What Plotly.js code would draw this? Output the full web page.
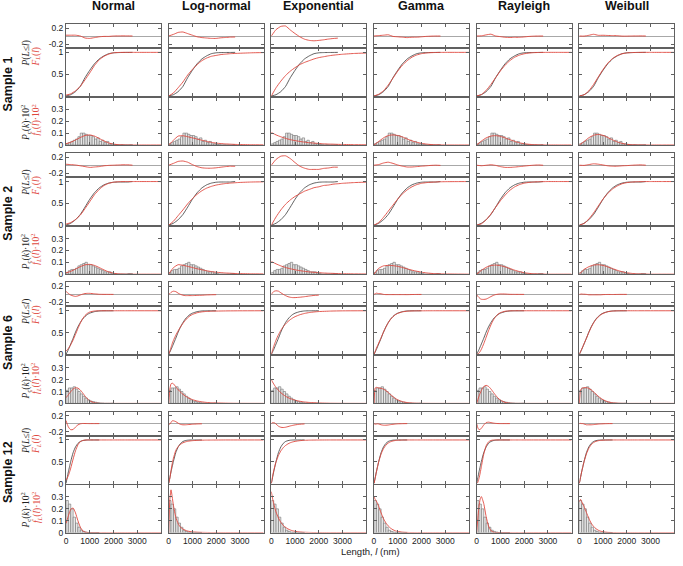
<!DOCTYPE html>
<html>
<head>
<meta charset="utf-8">
<script src="https://cdn.plot.ly/plotly-3.0.1.min.js"></script>
<style>
html,body{margin:0;padding:0;background:#fff;}
#chart{width:683px;height:566px;}
</style>
</head>
<body>
<div id="chart"></div>
<script>
// ---------------- DATA ----------------
const columnTitles = ['Normal', 'Log-normal', 'Exponential', 'Gamma', 'Rayleigh', 'Weibull'];
const sampleNames = ['Sample 1', 'Sample 2', 'Sample 6', 'Sample 12'];
const xTickVals = [0, 1000, 2000, 3000, 4000];
const xTickText = ['0', '1000', '2000', '3000', '4000'];

// evaluation grids (nm)
const gridWide = [0,200,400,600,800,1000,1200,1400,1600,1800,2000,2200,2400,2600,2800,3000,3500,4000];
const gridFine = [0,50,100,150,200,300,400,500,600,700,800,900,1000,1200,1400,1600,1800,2000,2500,3000,4000];
// histogram bin centres (100 nm bins)
const histX = [50,150,250,350,450,550,650,750,850,950,1050,1150,1250,1350,1450,1550,1650,1750,1850,1950,2050,2150,2250,2350,2450,2550,2650,2750,2850,2950];

// Sample 1
const s1Hist = [0.01,0.02,0.03,0.04,0.05,0.07,0.10,0.10,0.09,0.08,0.08,0.07,0.05,0.06,0.03,0.04,0.02,0.03,0.01,0.01,0.005,0.003,0,0.002,0,0,0,0.002];
const s1Emp = [0,0.03,0.10,0.22,0.42,0.59,0.74,0.85,0.92,0.97,0.99,0.995,0.997,0.998,1.0,null,null,null];
const n1C = [0.02,0.05,0.12,0.22,0.37,0.53,0.70,0.83,0.91,0.96,0.99,0.997,1,1,1,1,1,1];
const n1P = [0.011,0.023,0.042,0.063,0.080,0.085,0.075,0.055,0.034,0.017,0.007,0.003,0.001,0,0,0,0,0];
const l1C = [0,0.07,0.19,0.32,0.48,0.61,0.72,0.81,0.87,0.91,0.93,0.95,0.96,0.97,0.975,0.98,0.99,0.995];
const l1P = [0,0.04,0.075,0.078,0.07,0.06,0.05,0.04,0.03,0.022,0.016,0.012,0.009,0.007,0.005,0.004,0.002,0.001];
const e1C = [0,0.19,0.34,0.47,0.57,0.65,0.72,0.77,0.81,0.85,0.88,0.90,0.92,0.935,0.947,0.957,0.975,0.985];
const e1P = [0.105,0.085,0.069,0.056,0.045,0.037,0.030,0.024,0.019,0.016,0.013,0.010,0.008,0.007,0.0055,0.0045,0.0026,0.0015];
const g1C = [0,0.04,0.12,0.25,0.41,0.57,0.71,0.81,0.89,0.94,0.97,0.985,0.993,0.997,0.999,1,1,1];
const g1P = [0,0.03,0.06,0.08,0.085,0.08,0.068,0.05,0.035,0.023,0.014,0.008,0.004,0.002,0.001,0,0,0];
const r1C = [0,0.034,0.128,0.265,0.42,0.574,0.708,0.812,0.888,0.937,0.967,0.984,0.993,0.997,0.999,1,1,1];
const r1P = [0,0.033,0.060,0.075,0.079,0.073,0.060,0.045,0.031,0.019,0.011,0.006,0.003,0.0013,0.0005,0.0002,0,0];
const w1C = [0,0.027,0.117,0.263,0.437,0.608,0.753,0.86,0.928,0.967,0.987,0.995,0.998,1,1,1,1,1];
const w1P = [0,0.029,0.061,0.082,0.089,0.081,0.063,0.043,0.026,0.014,0.006,0.0025,0.0009,0.0003,0,0,0,0];

// Sample 2
const s2Hist = [0.015,0.03,0.04,0.04,0.05,0.07,0.08,0.09,0.10,0.08,0.08,0.07,0.06,0.05,0.04,0.03,0.02,0.02,0.02,0.01,0.005,0,0,0,0,0,0.005,0.005];
const s2Emp = [0,0.045,0.125,0.245,0.415,0.595,0.745,0.855,0.925,0.965,0.985,0.99,0.99,0.99,1.0,null,null,null];
const n2C = [0.024,0.06,0.13,0.23,0.38,0.54,0.70,0.82,0.91,0.96,0.985,0.995,1,1,1,1,1,1];
const n2P = [0.011,0.024,0.043,0.063,0.079,0.083,0.074,0.056,0.036,0.019,0.008,0.003,0.001,0,0,0,0,0];
const l2C = [0,0.09,0.22,0.35,0.49,0.61,0.71,0.79,0.85,0.89,0.92,0.94,0.955,0.965,0.973,0.98,0.99,0.994];
const l2P = [0,0.055,0.08,0.075,0.066,0.056,0.046,0.037,0.029,0.022,0.017,0.013,0.010,0.008,0.006,0.005,0.003,0.002];
const e2C = [0,0.19,0.35,0.48,0.58,0.66,0.72,0.78,0.82,0.86,0.88,0.91,0.92,0.94,0.95,0.96,0.977,0.987];
const e2P = [0.107,0.087,0.07,0.056,0.046,0.037,0.030,0.024,0.019,0.016,0.013,0.010,0.008,0.007,0.005,0.004,0.0025,0.0014];
const g2C = [0,0.06,0.18,0.32,0.46,0.60,0.72,0.81,0.88,0.93,0.96,0.975,0.985,0.99,0.995,0.997,0.999,1];
const g2P = [0,0.05,0.07,0.074,0.072,0.066,0.056,0.045,0.034,0.025,0.017,0.011,0.007,0.004,0.003,0.002,0.001,0];
const r2C = [0,0.032,0.123,0.256,0.41,0.56,0.69,0.80,0.878,0.93,0.963,0.98,0.99,0.996,0.998,1,1,1];
const r2P = [0,0.032,0.058,0.073,0.077,0.072,0.062,0.048,0.034,0.022,0.013,0.007,0.004,0.002,0.001,0,0,0];
const w2C = [0,0.04,0.14,0.28,0.44,0.60,0.73,0.83,0.90,0.95,0.975,0.988,0.995,0.998,1,1,1,1];
const w2P = [0,0.04,0.063,0.077,0.08,0.074,0.062,0.047,0.033,0.021,0.012,0.007,0.003,0.002,0.001,0,0,0];

// Sample 6
const s6Hist = [0.11,0.13,0.13,0.14,0.12,0.10,0.08,0.06,0.045,0.03,0.02,0.015,0.01,0.006,0.003,0.002,0,0,0,0.001];
const s6Emp = [0,0.055,0.11,0.175,0.24,0.37,0.51,0.63,0.73,0.81,0.87,0.915,0.945,0.98,0.996,0.999,0.9995,1.0,null,null,null];
const n6C = [0.076,0.103,0.136,0.175,0.222,0.332,0.46,0.592,0.715,0.816,0.891,0.941,0.971,0.995,0.999,1,1,1,1,1,1];
const n6P = [0.048,0.06,0.073,0.086,0.099,0.121,0.132,0.129,0.113,0.089,0.062,0.039,0.022,0.005,0.0006,0,0,0,0,0,0];
const l6C = [0,0.075,0.16,0.245,0.32,0.44,0.54,0.63,0.71,0.78,0.84,0.885,0.915,0.955,0.975,0.985,0.99,0.993,0.997,0.999,1];
const l6P = [0,0.12,0.165,0.17,0.165,0.14,0.115,0.095,0.077,0.062,0.05,0.04,0.032,0.02,0.013,0.008,0.005,0.004,0.0015,0.0006,0.0001];
const e6C = [0,0.095,0.181,0.259,0.33,0.451,0.551,0.632,0.699,0.753,0.798,0.835,0.865,0.909,0.939,0.959,0.973,0.982,0.993,0.998,1];
const e6P = [0.2,0.181,0.164,0.148,0.134,0.11,0.09,0.074,0.06,0.049,0.04,0.033,0.027,0.018,0.012,0.008,0.0055,0.0037,0.0013,0.0005,0.0001];
const g6C = [0,0.07,0.14,0.2,0.26,0.385,0.51,0.625,0.725,0.805,0.865,0.91,0.94,0.975,0.99,0.996,0.998,0.999,1,1,1];
const g6P = [0,0.13,0.135,0.133,0.13,0.127,0.12,0.108,0.092,0.074,0.057,0.042,0.03,0.015,0.007,0.003,0.0015,0.0007,0.0001,0,0];
const r6C = [0,0.0078,0.031,0.068,0.118,0.245,0.393,0.542,0.675,0.784,0.865,0.92,0.956,0.989,0.998,1,1,1,1,1,1];
const r6P = [0,0.031,0.061,0.087,0.11,0.142,0.152,0.143,0.122,0.095,0.068,0.045,0.028,0.008,0.002,0.0003,0,0,0,0,0];
const w6C = [0,0.06,0.12,0.18,0.245,0.37,0.5,0.62,0.72,0.8,0.86,0.905,0.94,0.978,0.993,0.998,1,1,1,1,1];
const w6P = [0,0.11,0.125,0.13,0.132,0.133,0.127,0.114,0.097,0.078,0.06,0.044,0.031,0.014,0.005,0.002,0.0005,0,0,0,0];

// Sample 12
const s12Hist = [0.27,0.24,0.20,0.13,0.08,0.045,0.02,0.01,0.004,0.001,0,0,0,0.0005];
const s12Emp = [0,0.135,0.27,0.39,0.51,0.71,0.84,0.92,0.965,0.985,0.995,0.999,1.0,1.0,1.0,null,null,null,null,null,null];
const n12C = [0.078,0.123,0.185,0.264,0.356,0.563,0.753,0.887,0.959,0.988,0.997,1,1,1,1,1,1,1,1,1,1];
const n12P = [0.077,0.108,0.141,0.172,0.196,0.207,0.166,0.101,0.047,0.016,0.004,0.001,0,0,0,0,0,0,0,0,0];
const l12C = [0,0.12,0.3,0.46,0.58,0.76,0.85,0.9,0.935,0.955,0.97,0.978,0.984,0.991,0.995,0.997,0.998,0.999,1,1,1];
const l12P = [0,0.28,0.36,0.3,0.23,0.13,0.075,0.045,0.03,0.02,0.013,0.009,0.0065,0.0035,0.002,0.0012,0.0007,0.0004,0.0001,0,0];
const e12C = [0,0.158,0.292,0.404,0.498,0.645,0.748,0.822,0.874,0.91,0.937,0.955,0.968,0.984,0.992,0.996,0.998,0.999,1,1,1];
const e12P = [0.345,0.29,0.244,0.206,0.173,0.123,0.087,0.061,0.044,0.031,0.022,0.015,0.011,0.0055,0.0028,0.0014,0.0007,0.0004,0.0001,0,0];
const g12C = [0,0.12,0.26,0.385,0.5,0.68,0.8,0.88,0.93,0.96,0.978,0.988,0.994,0.998,1,1,1,1,1,1,1];
const g12P = [0.3,0.28,0.265,0.245,0.22,0.165,0.118,0.082,0.056,0.037,0.024,0.015,0.01,0.004,0.0015,0.0005,0.0002,0,0,0,0];
const r12C = [0,0.031,0.118,0.245,0.393,0.675,0.865,0.956,0.989,0.998,1,1,1,1,1,1,1,1,1,1,1];
const r12P = [0,0.121,0.221,0.283,0.303,0.244,0.135,0.055,0.017,0.004,0.0007,0,0,0,0,0,0,0,0,0,0];
const w12C = [0,0.14,0.27,0.39,0.5,0.68,0.81,0.89,0.94,0.968,0.983,0.991,0.995,0.999,1,1,1,1,1,1,1];
const w12P = [0.26,0.28,0.26,0.24,0.22,0.17,0.12,0.08,0.052,0.033,0.02,0.012,0.007,0.002,0.0006,0.0002,0,0,0,0,0];

// --------------- BUILD ----------------
const samples = [
  {grid: gridWide, emp: s1Emp, hist: s1Hist, cdf: [n1C,l1C,e1C,g1C,r1C,w1C], pdf: [n1P,l1P,e1P,g1P,r1P,w1P]},
  {grid: gridWide, emp: s2Emp, hist: s2Hist, cdf: [n2C,l2C,e2C,g2C,r2C,w2C], pdf: [n2P,l2P,e2P,g2P,r2P,w2P]},
  {grid: gridFine, emp: s6Emp, hist: s6Hist, cdf: [n6C,l6C,e6C,g6C,r6C,w6C], pdf: [n6P,l6P,e6P,g6P,r6P,w6P]},
  {grid: gridFine, emp: s12Emp, hist: s12Hist, cdf: [n12C,l12C,e12C,g12C,r12C,w12C], pdf: [n12P,l12P,e12P,g12P,r12P,w12P]}
];

const W = 683, H = 566;
const RED = '#e0473e', DARK = '#3a3a3a', FRAME = '#606060';
const colLeft0 = 66, colStep = 102.66, colW = 95;
const blockTop0 = 24, blockStep = 129.2;
const panelRows = [[0, 24], [24, 72], [73.5, 121]]; // diff, cdf, hist (px offsets within block)
const yRanges = [[-0.3, 0.3], [0, 1.1], [0, 0.4]];
const yTickVals = [[-0.2, 0.2], [0, 0.5, 1], [0, 0.1, 0.2, 0.3]];
const yTickText = [['-0.2', '0.2'], ['0', '0.5', '1'], ['0', '0.1', '0.2', '0.3']];

const px = x => x / W;
const py = y => 1 - y / H;

const traces = [];
const layout = {
  width: W, height: H,
  margin: {l: 0, r: 0, t: 0, b: 0},
  paper_bgcolor: '#fff', plot_bgcolor: '#fff',
  showlegend: false,
  barmode: 'overlay',
  font: {family: 'Liberation Sans, Arial, sans-serif', size: 8.5, color: '#222'},
  annotations: []
};

const lineStyle = (color, w) => ({color: color, width: w, shape: 'spline', smoothing: 0.5});

samples.forEach((S, s) => {
  const T = blockTop0 + blockStep * s;
  for (let p = 0; p < 3; p++) {
    for (let c = 0; c < 6; c++) {
      const k = (s * 3 + p) * 6 + c + 1;
      const xa = 'xaxis' + (k === 1 ? '' : k), ya = 'yaxis' + (k === 1 ? '' : k);
      const xr = 'x' + (k === 1 ? '' : k), yr = 'y' + (k === 1 ? '' : k);
      const left = colLeft0 + colStep * c;
      const top = T + panelRows[p][0], bot = T + panelRows[p][1];
      const bottomRow = (s === 3 && p === 2);
      const nX = (c === 5) ? 5 : 4;
      layout[xa] = {
        domain: [px(left), px(left + colW)], anchor: yr,
        range: [0, 4000], tickmode: 'array', tickvals: xTickVals.slice(0, nX),
        ticktext: xTickText.slice(0, nX),
        showticklabels: bottomRow, ticks: 'inside', ticklen: 3, tickcolor: FRAME, tickwidth: 1,
        showline: true, linecolor: FRAME, linewidth: 1, mirror: 'ticks',
        showgrid: false, zeroline: false, fixedrange: true,
        tickfont: {size: 8.5, color: '#222'}
      };
      layout[ya] = {
        domain: [py(bot), py(top)], anchor: xr,
        range: yRanges[p], tickmode: 'array', tickvals: yTickVals[p], ticktext: yTickText[p],
        showticklabels: c === 0, ticks: 'inside', ticklen: 3, tickcolor: FRAME, tickwidth: 1,
        showline: true, linecolor: FRAME, linewidth: 1, mirror: 'ticks',
        showgrid: false, zeroline: p === 0, zerolinecolor: '#a8a8a8', zerolinewidth: 1,
        fixedrange: true, tickfont: {size: 8.5, color: '#222'}
      };
      if (p === 0) {
        const diff = S.emp.map((e, i) => e === null ? null : S.cdf[c][i] - e);
        traces.push({type: 'scatter', mode: 'lines', x: S.grid, y: diff, xaxis: xr, yaxis: yr,
          line: lineStyle(RED, 0.9), connectgaps: false, hoverinfo: 'skip'});
      } else if (p === 1) {
        traces.push({type: 'scatter', mode: 'lines', x: S.grid, y: S.emp, xaxis: xr, yaxis: yr,
          line: lineStyle(DARK, 0.8), connectgaps: false, hoverinfo: 'skip'});
        traces.push({type: 'scatter', mode: 'lines', x: S.grid, y: S.cdf[c], xaxis: xr, yaxis: yr,
          line: lineStyle(RED, 0.9), hoverinfo: 'skip'});
      } else {
        traces.push({type: 'bar', x: histX.slice(0, S.hist.length), y: S.hist, width: 100,
          xaxis: xr, yaxis: yr, marker: {color: '#e8e8e8', line: {color: '#707070', width: 0.6}},
          hoverinfo: 'skip'});
        traces.push({type: 'scatter', mode: 'lines', x: S.grid, y: S.pdf[c], xaxis: xr, yaxis: yr,
          line: lineStyle(RED, 0.9), hoverinfo: 'skip'});
      }
    }
  }
  // row label
  layout.annotations.push({
    xref: 'paper', yref: 'paper', x: px(8), y: py(T + 60.5), text: '<b>' + sampleNames[s] + '</b>',
    textangle: -90, showarrow: false, xanchor: 'center', yanchor: 'middle',
    font: {family: 'Liberation Sans, Arial, sans-serif', size: 12.5, color: '#111'}
  });
  // CDF axis labels
  const serif = 'Liberation Serif, Times New Roman, serif';
  layout.annotations.push({
    xref: 'paper', yref: 'paper', x: px(26.5), y: py(T + 45), text: '<i>P</i>(<i>L</i>≤<i>l</i>)',
    textangle: -90, showarrow: false, xanchor: 'center', yanchor: 'bottom',
    font: {family: serif, size: 9.5, color: '#222'}
  });
  layout.annotations.push({
    xref: 'paper', yref: 'paper', x: px(36.5), y: py(T + 45), text: '<i>F<sub>L</sub></i>(<i>l</i>)',
    textangle: -90, showarrow: false, xanchor: 'center', yanchor: 'bottom',
    font: {family: serif, size: 9.5, color: RED}
  });
  // histogram axis labels
  layout.annotations.push({
    xref: 'paper', yref: 'paper', x: px(25.5), y: py(T + 119.5), text: '<i>P</i><sub>c</sub>(<i>k</i>)·10<sup>2</sup>',
    textangle: -90, showarrow: false, xanchor: 'center', yanchor: 'bottom',
    font: {family: serif, size: 9.5, color: '#222'}
  });
  layout.annotations.push({
    xref: 'paper', yref: 'paper', x: px(36), y: py(T + 114), text: '<i>f<sub>L</sub></i>(<i>l</i>)·10<sup>2</sup>',
    textangle: -90, showarrow: false, xanchor: 'center', yanchor: 'bottom',
    font: {family: serif, size: 9.5, color: RED}
  });
});

// column titles
columnTitles.forEach((t, c) => {
  layout.annotations.push({
    xref: 'paper', yref: 'paper', x: px(colLeft0 + colStep * c + colW / 2), y: py(6),
    text: '<b>' + t + '</b>', showarrow: false, xanchor: 'center', yanchor: 'middle',
    font: {family: 'Liberation Sans, Arial, sans-serif', size: 12.5, color: '#111'}
  });
});

// x-axis title
layout.annotations.push({
  xref: 'paper', yref: 'paper', x: px(370), y: py(551), text: 'Length, <i>l</i> (nm)',
  showarrow: false, xanchor: 'center', yanchor: 'middle',
  font: {family: 'Liberation Sans, Arial, sans-serif', size: 9.5, color: '#222'}
});

Plotly.newPlot('chart', traces, layout, {staticPlot: true, displayModeBar: false});
</script>
</body>
</html>
